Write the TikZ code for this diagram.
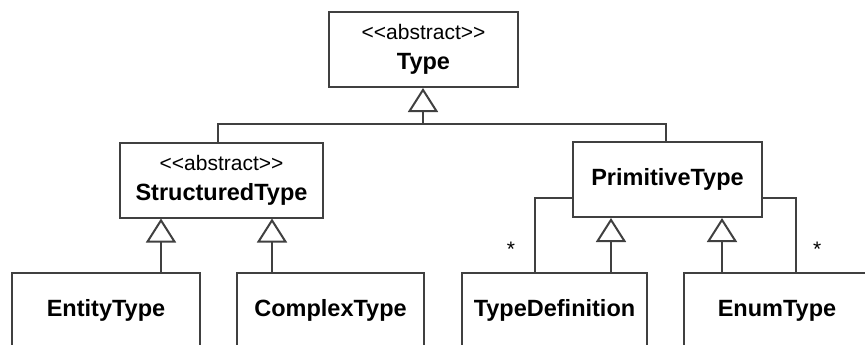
\documentclass[tikz,border=0pt]{standalone}
\usepackage{fontspec}
\setmainfont{Liberation Sans}
\usepackage{xcolor}
\usepackage{tikz}
\usetikzlibrary{arrows.meta,positioning,calc}
\definecolor{umlgray}{RGB}{64,64,64}
\newcommand{\stereotype}[1]{{\mdseries\fontsize{21}{30}\selectfont<\kern0pt<#1>\kern0pt>}}

\begin{document}
\begin{tikzpicture}[
        x=1pt, y=-1pt,
        every node/.style={font=\fontsize{23.5}{30}\selectfont\bfseries},
        cls/.style={rectangle, draw=umlgray, line width=2pt, minimum width=189pt, minimum height=75pt, inner sep=0pt, align=center},
        gen/.style={draw=umlgray, line width=2pt, -{Triangle[open, width=30pt, length=24pt]}},
        assoc/.style={draw=umlgray, line width=2pt},
        mult/.style={font=\fontsize{21}{24}\selectfont\mdseries, inner sep=0pt}
    ]
        \useasboundingbox (0,0) rectangle (865,345);
        \clip (0,0) rectangle (865,345);

        % Top layer: abstract base type
        \node[cls] (type) at (423.5,49.5) {\stereotype{abstract}\\Type};

        % Middle layer
        \node[cls, minimum width=203pt] (structured) at (221.5,180) {\stereotype{abstract}\\StructuredType};
        \node[cls] (primitive) at (667.5,179.5) {PrimitiveType};

        % Bottom layer (cut off by the page edge)
        \node[cls, minimum width=188pt] (entity) at (106,310.5) {EntityType};
        \node[cls, minimum width=187pt] (complex) at (330.5,310.5) {ComplexType};
        \node[cls, minimum width=185pt] (typedef) at (554.5,310.5) {TypeDefinition};
        \node[cls, minimum width=186pt] (enum) at (777,310.5) {EnumType};

        % Attachment points
        \coordinate (bus) at (423,124);
        \coordinate (entityGen) at ($(entity.north east)+(-40,0)$);
        \coordinate (complexGen) at ($(complex.north west)+(36,0)$);
        \coordinate (typedefGen) at ($(typedef.north east)+(-37,0)$);
        \coordinate (typedefAssoc) at ($(typedef.north west)+(74,0)$);
        \coordinate (enumGen) at ($(enum.north west)+(39,0)$);
        \coordinate (enumAssoc) at ($(enum.north west)+(113,0)$);

        % Generalisation to Type
        \draw[assoc] ($(structured.north)+(-4,0)$) |- (bus) -| ($(primitive.north)+(-1.5,0)$);
        \draw[gen] (bus) -- (bus |- type.south);

        % Generalisations
        \draw[gen] (entityGen) -- (entityGen |- structured.south);
        \draw[gen] (complexGen) -- (complexGen |- structured.south);
        \draw[gen] (typedefGen) -- (typedefGen |- primitive.south);
        \draw[gen] (enumGen) -- (enumGen |- primitive.south);

        % Associations
        \draw[assoc] ($(primitive.west)+(0,18)$) -| node[mult, pos=0.85, left=19pt] {*} (typedefAssoc);
        \draw[assoc] ($(primitive.east)+(0,18)$) -| node[mult, pos=0.85, right=16pt] {*} (enumAssoc);
    \end{tikzpicture}
\end{document}
